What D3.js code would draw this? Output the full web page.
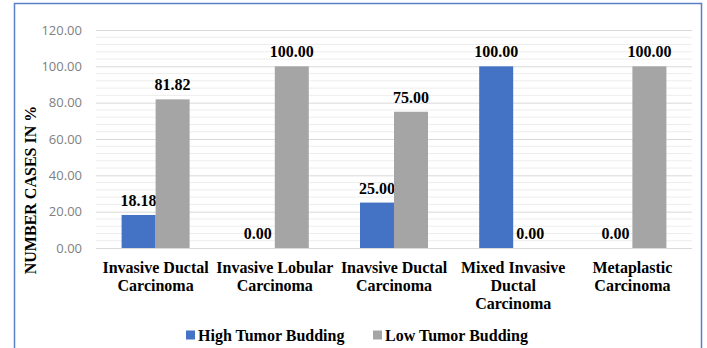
<!DOCTYPE html>
<html>
<head>
<meta charset="utf-8">
<script src="https://cdn.jsdelivr.net/npm/d3@7"></script>
<style>
  html, body { margin: 0; padding: 0; background: #fff; }
  svg { display: block; }
</style>
</head>
<body>
<svg id="chart" width="707" height="348"></svg>
<script>
// Tumour budding by histological type (% of cases)
const categories = [
  ["Invasive Ductal", "Carcinoma"],
  ["Invasive Lobular", "Carcinoma"],
  ["Inavsive Ductal", "Carcinoma"],
  ["Mixed Invasive", "Ductal", "Carcinoma"],
  ["Metaplastic", "Carcinoma"]
];
const seriesNames = ["High Tumor Budding", "Low Tumor Budding"];
const highBudding = [18.18, 0.00, 25.00, 100.00, 0.00];
const lowBudding = [81.82, 100.00, 75.00, 0.00, 100.00];
const yTicks = [0, 20, 40, 60, 80, 100, 120];
const colors = ["#4472c4", "#a5a5a5"];

const SERIF = '"Liberation Serif", serif';
const SANS = '"Open Sans", sans-serif';

const svg = d3.select("#chart");

// outer frame
svg.append("rect")
  .attr("x", 14.5).attr("y", 3.5)
  .attr("width", 687).attr("height", 360)
  .attr("fill", "none")
  .attr("stroke", "#5b7fc7")
  .attr("stroke-width", 1.5);

const margin = { left: 96, top: 30 };
const plotW = 692 - 96, plotH = 248 - 30;
const g = svg.append("g").attr("transform", `translate(${margin.left},${margin.top})`);

const x = d3.scaleBand().domain(d3.range(categories.length)).range([0, plotW]);
const y = d3.scaleLinear().domain([0, 120]).range([plotH, 0]);
const barW = 34;

// minor gridlines every 4 units
g.append("g").selectAll("line")
  .data(d3.range(0, 121, 4).filter(v => v % 20 !== 0))
  .join("line")
  .attr("x1", 0).attr("x2", plotW)
  .attr("y1", d => y(d)).attr("y2", d => y(d))
  .attr("stroke", "#ededed").attr("stroke-width", 1);

// major gridlines + tick labels
const yAxis = d3.axisLeft(y).tickValues(yTicks).tickSize(-plotW).tickPadding(14)
  .tickFormat(d3.format(".2f"));
g.append("g").call(yAxis)
  .attr("font-family", SANS)
  .attr("font-size", 13)
  .call(a => a.select(".domain").remove())
  .call(a => a.selectAll(".tick line").attr("stroke", "#d9d9d9").attr("stroke-width", 1))
  .call(a => a.selectAll(".tick text").attr("fill", "#808080"));

// bars and value labels
const series = [highBudding, lowBudding];
series.forEach((vals, si) => {
  g.append("g").selectAll("rect")
    .data(vals)
    .join("rect")
    .attr("x", (d, i) => x(i) + x.bandwidth() / 2 - barW + si * barW)
    .attr("y", d => y(d))
    .attr("width", barW)
    .attr("height", d => plotH - y(d))
    .attr("fill", colors[si]);

  g.append("g").selectAll("text")
    .data(vals)
    .join("text")
    .attr("font-family", SERIF)
    .attr("font-weight", "bold")
    .attr("font-size", 16)
    .attr("x", (d, i) => x(i) + x.bandwidth() / 2 - barW / 2 + si * barW)
    .attr("y", d => y(d) - 9)
    .attr("text-anchor", "middle")
    .attr("fill", "#000")
    .text(d => d3.format(".2f")(d));
});

// category labels
const catG = g.append("g")
  .attr("font-family", SERIF)
  .attr("font-weight", "bold")
  .attr("font-size", 16);
categories.forEach((lines, i) => {
  const cx = x(i) + x.bandwidth() / 2;
  const t = catG.append("text")
    .attr("x", cx)
    .attr("y", plotH + 25)
    .attr("text-anchor", "middle")
    .attr("fill", "#000");
  lines.forEach((ln, j) => {
    t.append("tspan").attr("x", cx).attr("dy", j === 0 ? 0 : 18).text(ln);
  });
});

// y axis title
svg.append("text")
  .attr("font-family", SERIF)
  .attr("font-weight", "bold")
  .attr("font-size", 16)
  .attr("transform", "translate(36,190) rotate(-90)")
  .attr("text-anchor", "middle")
  .attr("fill", "#000")
  .text("NUMBER CASES IN %");

// legend
const legendX = [186, 373];
seriesNames.forEach((name, i) => {
  const lg = svg.append("g").attr("transform", `translate(${legendX[i]},335)`);
  lg.append("rect").attr("x", 0).attr("y", -4.5).attr("width", 9).attr("height", 9).attr("fill", colors[i]);
  lg.append("text")
    .attr("font-family", SERIF)
    .attr("font-weight", "bold")
    .attr("font-size", 16)
    .attr("x", 12).attr("y", 6)
    .attr("fill", "#000")
    .text(name);
});
</script>
</body>
</html>
